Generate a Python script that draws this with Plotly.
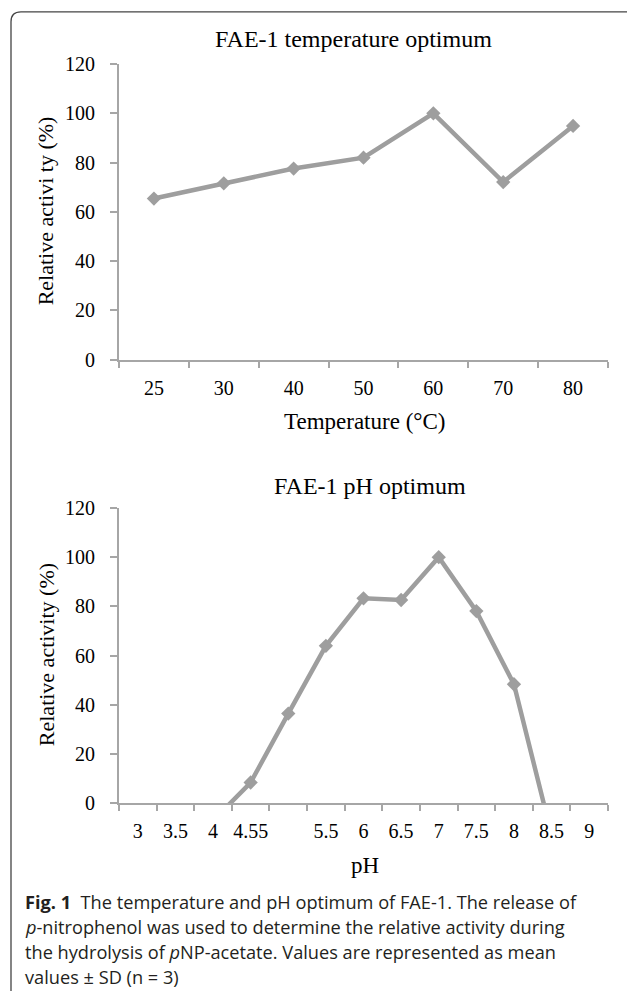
import plotly.graph_objects as go

W, H = 627, 991          # figure size
OFF, S = 12, 0.976       # observed vertical placement of the figure in the photograph

# ---- data ----
temp_categories = ["25", "30", "40", "50", "60", "70", "80"]
temp_activity = [65.4, 71.6, 77.6, 82.0, 100.0, 72.1, 94.9]

ph_categories = ["3", "3.5", "4", "4.5", "5", "5.5", "6", "6.5", "7", "7.5", "8", "8.5", "9"]
ph_tick_labels = ["3", "3.5", "4", "4.55", "", "5.5", "6", "6.5", "7", "7.5", "8", "8.5", "9"]
ph_activity = [None, None, -7.0, 8.5, 36.5, 64.0, 83.3, 82.6, 100.0, 78.1, 48.4, -12.7, None]

y_ticks = [0, 20, 40, 60, 80, 100, 120]

top_title = "FAE-1 temperature optimum"
bottom_title = "FAE-1 pH optimum"
top_xtitle = "Temperature (°C)"
bottom_xtitle = "pH"
top_ytitle = "Relative activi ty (%)"
bottom_ytitle = "Relative activity (%)"
caption_lines = [
    "<b>Fig. 1</b>  The temperature and pH optimum of FAE-1. The release of",
    "<i>p</i>-nitrophenol was used to determine the relative activity during",
    "the hydrolysis of <i>p</i>NP-acetate. Values are represented as mean",
    "values \u00b1 SD (n = 3)",
]

# ---- styling ----
SERIF = "Liberation Serif"
SANS = "Open Sans"
LINE_COLOR = "#9e9e9e"
AXIS_COLOR = "#a6a6a6"


def px_x(px):
    return px / W


def px_y(py):
    return 1 - ((py - OFF) / S) / H


fig = go.Figure()

fig.add_trace(go.Scatter(
    x=temp_categories, y=temp_activity, mode="lines+markers",
    line=dict(color=LINE_COLOR, width=4.5),
    marker=dict(symbol="diamond", size=11, color=LINE_COLOR),
    xaxis="x", yaxis="y", showlegend=False, hoverinfo="skip",
))
fig.add_trace(go.Scatter(
    x=ph_categories, y=ph_activity, mode="lines+markers",
    line=dict(color=LINE_COLOR, width=4.5),
    marker=dict(symbol="diamond", size=11, color=LINE_COLOR),
    xaxis="x2", yaxis="y2", showlegend=False, hoverinfo="skip",
    connectgaps=False,
))

x_left, x_right = 119, 608
top_y0, top_y1 = 65, 360
bot_y0, bot_y1 = 508, 803

xcommon = dict(
    type="category", showline=True, linecolor=AXIS_COLOR, linewidth=2,
    ticks="outside", ticklen=6, tickwidth=1.5, tickcolor=AXIS_COLOR,
    tickson="boundaries", showgrid=False, zeroline=False, tickangle=0,
    tickfont=dict(family=SERIF, size=20, color="black"),
    ticklabelstandoff=9, fixedrange=True,
)
ycommon = dict(
    range=[0, 120], tickmode="array", tickvals=y_ticks,
    showline=True, linecolor=AXIS_COLOR, linewidth=2,
    ticks="outside", ticklen=7, tickwidth=1.5, tickcolor=AXIS_COLOR,
    showgrid=False, zeroline=False,
    tickfont=dict(family=SERIF, size=20, color="black"),
    ticklabelstandoff=11, fixedrange=True,
)

fig.update_layout(
    width=W, height=H, autosize=False,
    margin=dict(l=0, r=0, t=0, b=0, pad=0),
    paper_bgcolor="white", plot_bgcolor="white",
    xaxis=dict(xcommon, domain=[px_x(x_left), px_x(x_right)], anchor="y",
               categoryorder="array", categoryarray=temp_categories,
               range=[-0.5, len(temp_categories) - 0.5]),
    yaxis=dict(ycommon, domain=[px_y(top_y1), px_y(top_y0)], anchor="x"),
    xaxis2=dict(xcommon, domain=[px_x(x_left), px_x(x_right)], anchor="y2",
                categoryorder="array", categoryarray=ph_categories,
                tickmode="array", tickvals=ph_categories, ticktext=ph_tick_labels,
                range=[-0.5, len(ph_categories) - 0.5]),
    yaxis2=dict(ycommon, domain=[px_y(bot_y1), px_y(bot_y0)], anchor="x2"),
)

annotations = []


def add_text(text, x, y, size, family=SERIF, xanchor="center", angle=0, color="black"):
    annotations.append(dict(
        text=text, x=px_x(x), y=px_y(y), xref="paper", yref="paper",
        xanchor=xanchor, yanchor="middle", showarrow=False, textangle=angle,
        font=dict(family=family, size=size, color=color),
    ))


add_text(top_title, 353, 40, 24)
add_text(top_xtitle, 364, 422, 23)
add_text(top_ytitle, 45, 212, 22, angle=-90)
add_text(bottom_title, 370, 486, 24)
add_text(bottom_xtitle, 365, 865, 23)
add_text(bottom_ytitle, 46, 655, 22, angle=-90)

cap_y = [901.7, 926.7, 951.7, 976.7]
for line, yy in zip(caption_lines, cap_y):
    add_text(line, 22.7, yy, 18.2, family=SANS, xanchor="left", color="#231f20")

fig.update_layout(annotations=annotations)

# rounded frame: top edge and left edge with a rounded top-left corner
bx, by, r = 11, 12.8, 10
path = (f"M {px_x(W + 5)},{px_y(by)} L {px_x(bx + r)},{px_y(by)} "
        f"Q {px_x(bx)},{px_y(by)} {px_x(bx)},{px_y(by + r)} "
        f"L {px_x(bx)},{px_y(H + 30)}")
fig.add_shape(type="path", path=path, xref="paper", yref="paper",
              line=dict(color="#444444", width=1.3))

fig.write_html("out.html", config={"displayModeBar": False},
               post_script="document.body.style.margin='0px';document.body.style.overflow='hidden';")
